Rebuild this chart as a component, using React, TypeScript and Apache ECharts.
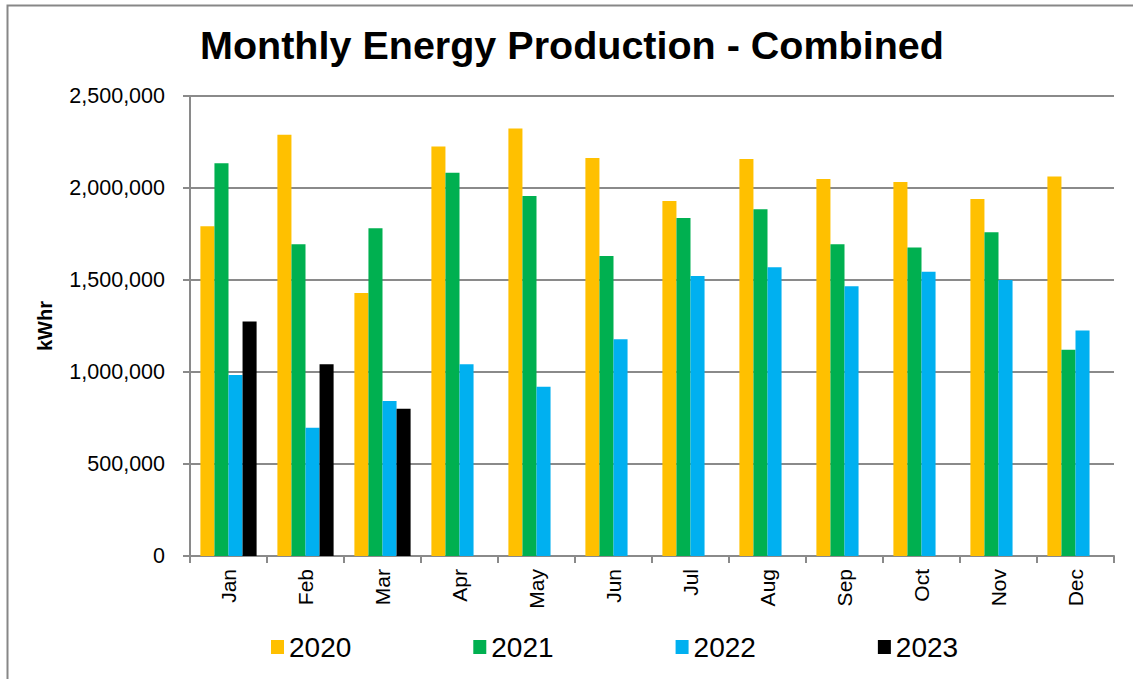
import React, { useEffect, useRef } from "react";
import * as echarts from "echarts";

const months = ["Jan", "Feb", "Mar", "Apr", "May", "Jun", "Jul", "Aug", "Sep", "Oct", "Nov", "Dec"];
const years = ["2020", "2021", "2022", "2023"];
const values2020 = [1792000, 2290000, 1429000, 2226000, 2324000, 2163000, 1929000, 2158000, 2049000, 2033000, 1940000, 2062000];
const values2021 = [2134000, 1694000, 1781000, 2083000, 1957000, 1630000, 1837000, 1884000, 1694000, 1677000, 1759000, 1121000];
const values2022 = [984000, 697000, 842000, 1042000, 920000, 1178000, 1522000, 1569000, 1466000, 1545000, 1500000, 1225000];
const values2023 = [1275000, 1042000, 800000, null, null, null, null, null, null, null, null, null];
const colors = ["#FFC000", "#00B050", "#00B0F0", "#000000"];

const FONT = "'Liberation Sans', Arial, sans-serif";

export default function App() {
  const ref = useRef<HTMLDivElement>(null);
  useEffect(() => {
    if (!ref.current) return;
    const chart = echarts.init(ref.current, null, { renderer: "svg" });
    const seriesData = [values2020, values2021, values2022, values2023];
    chart.setOption({
      animation: false,
      backgroundColor: "#ffffff",
      grid: { left: 190, right: 19, top: 96, bottom: 123, containLabel: false },
      graphic: [
        {
          type: "rect",
          shape: { x: 7.5, y: 5.5, width: 1160, height: 700 },
          style: { fill: "none", stroke: "#878787", lineWidth: 2 },
          silent: true,
        },
        {
          type: "text",
          x: 572,
          y: 45,
          style: {
            text: "Monthly Energy Production - Combined",
            fontFamily: FONT,
            fontSize: 39.5,
            fontWeight: "bold",
            fill: "#000",
            align: "center",
            verticalAlign: "middle",
          },
        },
        {
          type: "text",
          x: 45,
          y: 326,
          rotation: Math.PI / 2,
          style: {
            text: "kWhr",
            fontFamily: FONT,
            fontSize: 20,
            fontWeight: "bold",
            fill: "#000",
            align: "center",
            verticalAlign: "middle",
          },
        },
      ],
      legend: {
        data: years,
        left: 271,
        top: 633,
        padding: 0,
        itemGap: 122,
        itemWidth: 13,
        itemHeight: 14,
        icon: "rect",
        textStyle: { fontFamily: FONT, fontSize: 28, color: "#000" },
      },
      xAxis: {
        type: "category",
        data: months,
        boundaryGap: true,
        axisLine: { show: true, lineStyle: { color: "#8a8a8a", width: 2 } },
        axisTick: { show: true, interval: 0, length: 7, lineStyle: { color: "#8a8a8a", width: 2 } },
        axisLabel: {
          interval: 0,
          rotate: 90,
          margin: 13,
          fontFamily: FONT,
          fontSize: 21,
          color: "#000",
        },
      },
      yAxis: {
        type: "value",
        min: 0,
        max: 2500000,
        interval: 500000,
        axisLine: { show: true, lineStyle: { color: "#8a8a8a", width: 2 } },
        axisTick: { show: true, length: 7, lineStyle: { color: "#8a8a8a", width: 2 } },
        splitLine: { show: true, lineStyle: { color: "#8a8a8a", width: 2 } },
        axisLabel: {
          margin: 25,
          fontFamily: FONT,
          fontSize: 21.5,
          color: "#000",
          formatter: (v: number) => v.toLocaleString("en-US"),
        },
      },
      series: years.map((y, i) => ({
        name: y,
        type: "bar",
        data: seriesData[i],
        barGap: "0%",
        barCategoryGap: "27%",
        itemStyle: { color: colors[i] },
      })),
    });
    return () => chart.dispose();
  }, []);
  return (
    <div
      ref={ref}
      style={{ position: "absolute", left: 0, top: 0, width: 1133, height: 679 }}
    />
  );
}
